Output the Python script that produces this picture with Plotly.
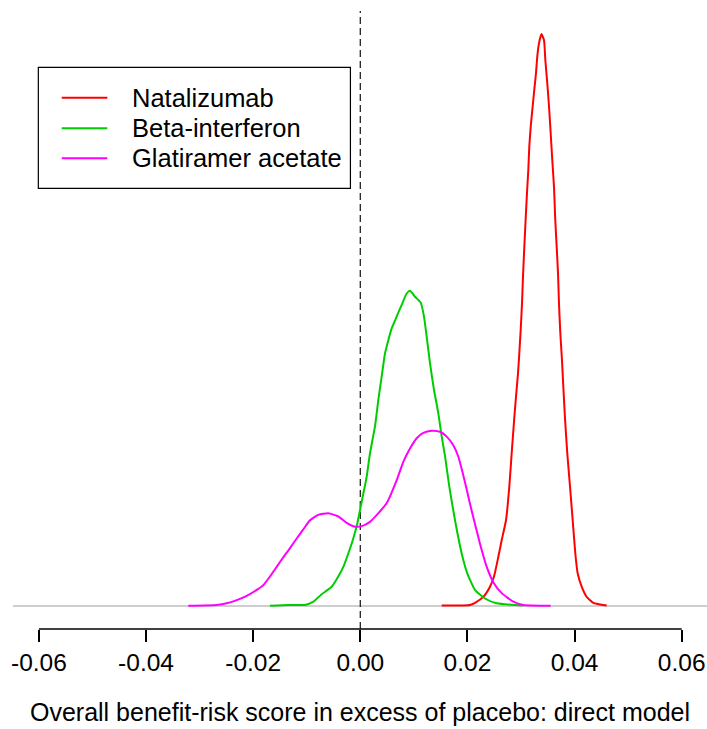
import plotly.graph_objects as go

# ---- data ----
nat_x = [0.01520, 0.02048, 0.02141, 0.02296, 0.02421, 0.02496, 0.02565, 0.02640, 0.02720,
         0.02782, 0.02826, 0.02875, 0.02912, 0.02944, 0.02968, 0.02994, 0.03019, 0.03037,
         0.03062, 0.03088, 0.03112, 0.03136, 0.03155, 0.03181, 0.03211, 0.03248, 0.03280,
         0.03304, 0.03336, 0.03383, 0.03429, 0.03454, 0.03491, 0.03523, 0.03554, 0.03584,
         0.03616, 0.03638, 0.03666, 0.03691, 0.03709, 0.03734, 0.03765, 0.03790, 0.03821,
         0.03864, 0.03915, 0.03965, 0.04014, 0.04058, 0.04133, 0.04226, 0.04350, 0.04600]
nat_y = [0.1, 0.2, 0.6, 1.7, 3.6, 5.5, 8.6, 12.3, 16.0,
         22.3, 28.5, 35.1, 39.7, 43.4, 47.1, 51.5, 56.5, 61.4,
         67.0, 72.4, 77.1, 81.3, 85.7, 89.4, 92.5, 96.3, 99.4,
         102.5, 105.0, 106.7, 105.6, 101.9, 97.5, 93.2, 88.2, 83.2,
         78.2, 72.4, 67.0, 62.1, 56.5, 50.9, 45.9, 40.9, 35.1,
         28.5, 22.3, 16.0, 9.8, 6.1, 3.6, 1.7, 0.6, 0.1]

beta_x = [-0.01686, -0.01344, -0.01032, -0.00877, -0.00721, -0.00534, -0.00411, -0.00317,
          -0.00224, -0.00131, -0.00056, 0.00007, 0.00069, 0.00119, 0.00181, 0.00274, 0.00336,
          0.00399, 0.00461, 0.00523, 0.00586, 0.00666, 0.00773, 0.00866, 0.00928, 0.01021,
          0.01128, 0.01189, 0.01240, 0.01301, 0.01376, 0.01456, 0.01520, 0.01581, 0.01661,
          0.01768, 0.01893, 0.01997, 0.02141, 0.02328, 0.02546, 0.03043]
beta_y = [0.06, 0.2, 0.2, 0.8, 2.2, 3.6, 5.5, 7.3,
          9.8, 12.6, 15.4, 18.5, 21.6, 24.1, 28.5, 33.5, 38.4,
          42.8, 47.1, 49.6, 51.8, 53.7, 56.2, 58.3, 58.8, 57.7,
          56.6, 54.0, 50.2, 45.3, 40.3, 36.0, 31.6, 28.0, 22.3,
          16.0, 9.8, 6.1, 3.0, 1.4, 0.5, 0.1]

glat_x = [-0.03211, -0.02681, -0.02494, -0.02307, -0.02121, -0.01934, -0.01811, -0.01686,
          -0.01561, -0.01437, -0.01312, -0.01187, -0.01064, -0.00939, -0.00784, -0.00597,
          -0.00411, -0.00254, -0.00099, 0.00026, 0.00181, 0.00300, 0.00493, 0.00680, 0.00803,
          0.00928, 0.01053, 0.01176, 0.01333, 0.01488, 0.01613, 0.01736, 0.01829, 0.01912,
          0.01973, 0.02061, 0.02154, 0.02248, 0.02360, 0.02496, 0.02640, 0.02856, 0.03043,
          0.03554]
glat_y = [0.06, 0.2, 0.5, 1.1, 1.9, 3.0, 3.9, 5.5,
          7.3, 9.1, 10.8, 12.6, 14.3, 16.0, 17.0, 17.3,
          16.7, 15.5, 14.8, 14.9, 15.7, 16.9, 19.2, 23.5, 26.9,
          29.4, 31.3, 32.3, 32.7, 32.5, 31.6, 30.0, 27.9, 24.8,
          22.3, 18.5, 14.8, 11.1, 7.3, 4.2, 2.4, 0.8, 0.2,
          0.06]

series_names = ["Natalizumab", "Beta-interferon", "Glatiramer acetate"]
series_colors = ["#FF0000", "#00CD00", "#FF00FF"]
tick_vals = [-0.06, -0.04, -0.02, 0.00, 0.02, 0.04, 0.06]
tick_text = ["-0.06", "-0.04", "-0.02", "0.00", "0.02", "0.04", "0.06"]
x_title = "Overall benefit-risk score in excess of placebo: direct model"

FONT = "Liberation Sans, Arial, sans-serif"

fig = go.Figure()
for xs, ys, name, col in zip([nat_x, beta_x, glat_x], [nat_y, beta_y, glat_y],
                             series_names, series_colors):
    fig.add_trace(go.Scatter(x=xs, y=ys, mode="lines", name=name,
                             line=dict(color=col, width=2, shape="spline", smoothing=0.5),
                             showlegend=False, hoverinfo="skip"))

# baseline (gray) and dashed zero line
fig.add_shape(type="line", xref="paper", yref="y", x0=0, x1=1, y0=0, y1=0,
              line=dict(color="#BEBEBE", width=1.5), layer="below")
fig.add_shape(type="line", xref="x", yref="paper", x0=0, x1=0, y0=0, y1=1,
              line=dict(color="#222222", width=1.3, dash="7px,4px"), layer="below")
# x axis line between extreme ticks
fig.add_shape(type="line", xref="x", yref="paper", x0=tick_vals[0], x1=tick_vals[-1],
              y0=0, y1=0, line=dict(color="black", width=1.5))

# legend (box, sample lines, labels)
fig.add_shape(type="rect", xref="paper", yref="paper", x0=0.0365, x1=0.4862,
              y0=0.7131, y1=0.9089, line=dict(color="black", width=1.2),
              fillcolor="white", layer="above")
leg_y = [0.8597, 0.8102, 0.7617]
for name, col, ly in zip(series_names, series_colors, leg_y):
    fig.add_shape(type="line", xref="paper", yref="paper", x0=0.0702, x1=0.1359,
                  y0=ly, y1=ly, line=dict(color=col, width=2))
    fig.add_annotation(text=name, xref="paper", yref="paper", x=0.1686, y=ly,
                       xanchor="left", yanchor="middle", showarrow=False,
                       font=dict(family=FONT, size=25.5, color="black"))

fig.update_layout(
    width=707, height=729,
    margin=dict(l=13, r=0, t=11, b=100),
    paper_bgcolor="white", plot_bgcolor="white",
    font=dict(family=FONT, size=24, color="black"),
    xaxis=dict(range=[-0.064835, 0.064723], tickvals=tick_vals, ticktext=tick_text,
               ticks="outside", ticklen=12, tickwidth=1.5, tickcolor="black",
               showgrid=False, zeroline=False, showline=False,
               tickfont=dict(family=FONT, size=24.5, color="black"),
               title=dict(text=x_title, font=dict(family=FONT, size=25, color="black"),
                          standoff=28)),
    yaxis=dict(range=[-4.291, 111.007], visible=False, showgrid=False, zeroline=False),
)

fig.write_html("out.html")
